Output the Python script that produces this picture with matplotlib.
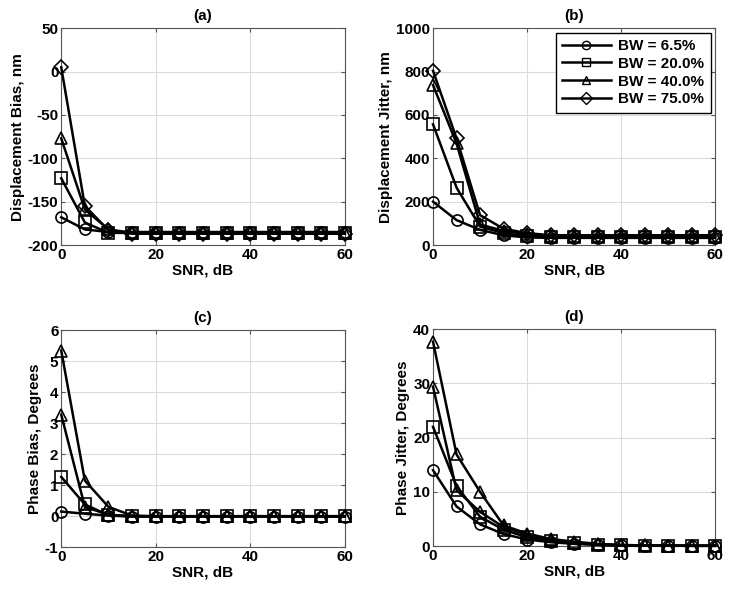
import matplotlib.pyplot as plt

plt.rcParams['font.family'] = ['Liberation Sans', 'DejaVu Sans']
plt.rcParams['font.weight'] = 'bold'
plt.rcParams['axes.unicode_minus'] = False

snr = [0, 5, 10, 15, 20, 25, 30, 35, 40, 45, 50, 55, 60]
bw_labels = ['BW = 6.5%', 'BW = 20.0%', 'BW = 40.0%', 'BW = 75.0%']

# (a) displacement bias, nm
disp_bias = [
    [-168, -182, -185, -185, -185, -185, -185, -185, -185, -185, -185, -185, -185],
    [-123, -174, -186, -186, -186, -186, -186, -186, -186, -186, -186, -186, -186],
    [-77, -159, -182, -186, -186, -186, -186, -186, -186, -186, -186, -186, -186],
    [5, -155, -183, -187, -187, -187, -187, -187, -187, -187, -187, -187, -187],
]
# (b) displacement jitter, nm
disp_jitter = [
    [200, 115, 70, 45, 35, 33, 33, 33, 33, 33, 33, 33, 33],
    [557, 265, 85, 55, 40, 38, 38, 38, 38, 38, 38, 38, 38],
    [738, 469, 95, 65, 50, 42, 42, 42, 42, 42, 42, 42, 42],
    [804, 492, 138, 75, 55, 45, 45, 45, 45, 45, 45, 45, 45],
]
# (c) phase bias, degrees
phase_bias = [
    [0.15, 0.08, 0.02, -0.01, -0.01, -0.01, -0.01, -0.01, -0.01, -0.01, -0.01, -0.01, -0.01],
    [1.27, 0.38, 0.03, 0.0, 0.0, 0.0, 0.0, 0.0, 0.0, 0.0, 0.0, 0.0, 0.0],
    [3.28, 0.30, 0.05, 0.0, 0.0, 0.0, 0.0, 0.0, 0.0, 0.0, 0.0, 0.0, 0.0],
    [5.35, 1.15, 0.30, 0.02, 0.0, 0.0, 0.0, 0.0, 0.0, 0.0, 0.0, 0.0, 0.0],
]
# (d) phase jitter, degrees
phase_jitter = [
    [14.0, 7.3, 4.0, 2.2, 1.2, 0.7, 0.4, 0.2, 0.1, 0.05, 0.05, 0.03, 0.03],
    [22.0, 11.1, 5.4, 3.0, 1.6, 0.9, 0.5, 0.25, 0.1, 0.05, 0.05, 0.03, 0.03],
    [29.4, 10.3, 6.3, 3.5, 2.0, 1.1, 0.6, 0.3, 0.15, 0.1, 0.05, 0.05, 0.05],
    [37.7, 16.9, 10.0, 3.8, 2.3, 1.3, 0.8, 0.4, 0.2, 0.1, 0.08, 0.05, 0.05],
]

markers_top = ['o', 's', '^', 'D']
markers_bottom = ['o', 's', '^', '^']

panels = [
    ('(a)', disp_bias, 'Displacement Bias, nm', (-200, 50), range(-200, 51, 50), markers_top, [0.084, 0.584, 0.389, 0.368]),
    ('(b)', disp_jitter, 'Displacement Jitter, nm', (0, 1000), range(0, 1001, 200), markers_top, [0.594, 0.584, 0.387, 0.368]),
    ('(c)', phase_bias, 'Phase Bias, Degrees', (-1, 6), range(-1, 7), markers_bottom, [0.084, 0.071, 0.389, 0.368]),
    ('(d)', phase_jitter, 'Phase Jitter, Degrees', (0, 40), range(0, 41, 10), markers_bottom, [0.594, 0.073, 0.387, 0.368]),
]

fig = plt.figure(figsize=(7.29, 5.89), dpi=100)

for title, data, ylabel, ylim, yticks, mks, pos in panels:
    ax = fig.add_axes(pos)
    for series, mk, lab in zip(data, mks, bw_labels):
        ms = 7 if mk == 'D' else 8
        ax.plot(snr, series, color='black', lw=1.8, marker=mk, ms=ms,
                mfc='none', mec='black', mew=1.2, label=lab, clip_on=False, zorder=3)
    ax.set_xlim(0, 60)
    ax.set_ylim(*ylim)
    ax.set_xticks([0, 20, 40, 60])
    ax.set_yticks(list(yticks))
    ax.grid(True, color='#dcdcdc', lw=0.8)
    ax.set_axisbelow(True)
    ax.tick_params(direction='in', top=True, right=True, labelsize=11, length=3,
                   color='#555555', pad=2)
    for lbl in ax.get_xticklabels() + ax.get_yticklabels():
        lbl.set_fontweight('bold')
    for sp in ax.spines.values():
        sp.set_color('#555555')
        sp.set_linewidth(0.8)
    ax.set_xlabel('SNR, dB', fontsize=11, fontweight='bold', labelpad=1)
    ax.set_ylabel(ylabel, fontsize=11, fontweight='bold', labelpad=2)
    ax.set_title(title, fontsize=11, fontweight='bold', pad=6)
    if title == '(b)':
        leg = ax.legend(loc='upper right', fontsize=11, handlelength=3.2,
                        fancybox=False, framealpha=1, borderpad=0.4,
                        labelspacing=0.25, handletextpad=0.5,
                        borderaxespad=0.3, bbox_to_anchor=(1.0, 1.0))
        leg.get_frame().set_edgecolor('black')
        leg.get_frame().set_linewidth(1.0)
        for h in leg.legend_handles:
            h.set_markersize(6)
            h.set_markeredgewidth(1.0)

fig.savefig('out.png', dpi=100, facecolor='white')
